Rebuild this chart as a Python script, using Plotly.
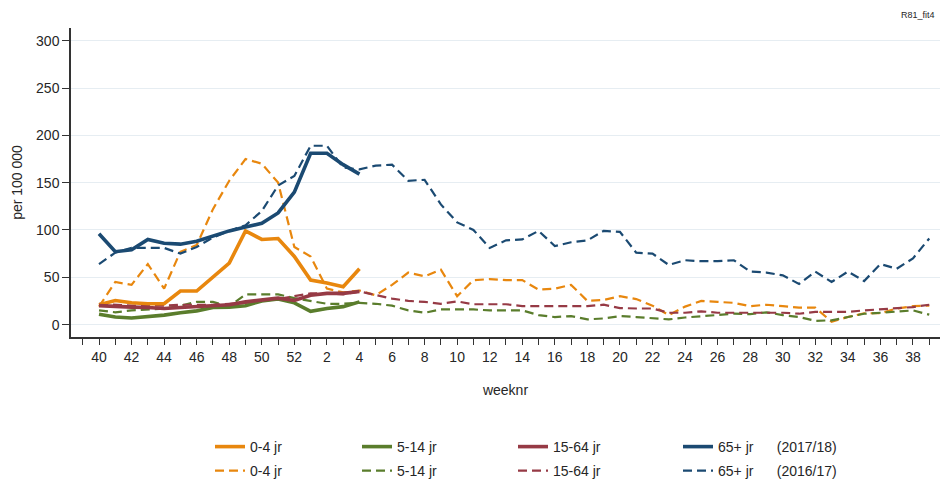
import plotly.graph_objects as go

# ---- data ----
weeks = list(range(40, 53)) + list(range(1, 40))   # season weeks 40..52, 1..39
age_groups = ["0-4 jr", "5-14 jr", "15-64 jr", "65+ jr"]
season_new = "(2017/18)"
season_old = "(2016/17)"

# 2017/18 (solid), weeks 40 .. 4
s1718_0_4 = [21, 25.5, 23, 22, 22, 35.5, 35.5, 50, 65, 99, 90, 91, 72, 47, 44, 40, 59]
s1718_5_14 = [11, 8, 7, 8.5, 10, 12.5, 14.5, 18, 18.5, 20, 25, 27, 23, 14, 17, 19, 24]
s1718_15_64 = [20, 19, 18.5, 18, 17, 18, 19, 20, 21, 24, 26, 28, 25.5, 31, 33, 33, 35]
s1718_65 = [96, 77, 79, 90, 86, 85, 88, 94, 99, 103, 107, 118, 140, 181, 181, 169, 159]

# 2016/17 (dashed), weeks 40 .. 39
s1617_0_4 = [19, 45, 42, 64, 38, 77, 84, 122, 152, 175, 170, 150, 82, 72, 38, 34, 36, 31, 42, 55,
             51, 58, 30, 47, 48, 47, 47, 37, 38, 42, 25, 26, 30, 27, 20, 10, 19, 25, 24, 23,
             19.5, 21, 19.5, 18, 18, 3, 8, 12, 12, 17, 19.5, 20]
s1617_5_14 = [15, 13, 15, 16, 17, 20, 24, 24, 19, 32, 32, 32, 28, 25, 22, 22, 23, 22, 20, 15,
              12.5, 16, 16, 16, 15, 15, 15, 10, 8, 9, 5.5, 6.5, 9, 8, 6.5, 5.5, 7.5, 9, 10.5, 11.5,
              11, 13, 10, 8, 4, 4.5, 8, 11.5, 12.5, 14, 15, 10.5]
s1617_15_64 = [22, 21, 20, 20, 20, 21, 21, 21, 22, 23, 25, 27, 30, 33, 33, 32, 35, 31, 27.5, 25,
               24, 22, 24.5, 21.5, 21.5, 21.5, 19.5, 19.5, 19.5, 19.5, 19.5, 21, 17.5, 17, 17, 12.5, 12.5, 14, 12.5, 12.5,
               12.5, 13, 12.5, 11.5, 13.5, 13.5, 13.5, 15, 16, 17, 18.5, 21]
s1617_65 = [64, 76, 81, 81, 81, 75, 82, 92, 99, 105, 120, 147, 157, 189, 189, 166, 164, 168, 169, 152,
            153, 127, 108, 100, 81, 89, 90, 99, 83, 87, 89, 99, 98, 76, 75, 63, 68, 67, 67, 68,
            56, 55, 52, 43, 56, 45, 56, 46, 64, 59, 70, 91]

y_ticks = [0, 50, 100, 150, 200, 250, 300]

colors = ["#E8870E", "#5A7D2C", "#963A45", "#1B4A72"]
FONT = "Liberation Sans, Arial, sans-serif"
TXT = "#262626"
W, H = 946, 483

x_pos = list(range(len(weeks)))
new_series = [s1718_0_4, s1718_5_14, s1718_15_64, s1718_65]
old_series = [s1617_0_4, s1617_5_14, s1617_15_64, s1617_65]

# legend layout: one small legend per entry (columns x text start, rows y)
legend_text_x = [250, 397, 553, 718]
legend_row_y = [447, 471]

legend_layouts = {}


def legend_id(n):
    return "legend" if n == 1 else f"legend{n}"


def make_legend(n, col, row):
    legend_layouts[legend_id(n)] = dict(
        orientation="h", xref="container", yref="container",
        x=(legend_text_x[col] - 40) / W, y=1 - legend_row_y[row] / H,
        xanchor="left", yanchor="middle",
        font=dict(size=14, family=FONT, color=TXT), bgcolor="rgba(0,0,0,0)")


fig = go.Figure()
nb = "\u00a0" * 6
n = 1
for k, (name, ys) in enumerate(zip(age_groups, old_series)):
    label = name + (nb + season_old if k == 3 else "")
    make_legend(n + 4, k, 1)
    fig.add_trace(go.Scatter(x=x_pos[:len(ys)], y=ys, mode="lines", name=label,
                             line=dict(color=colors[k], width=2.2, dash="9px,5px"),
                             legend=legend_id(n + 4)))
    n += 1
n = 1
for k, (name, ys) in enumerate(zip(age_groups, new_series)):
    label = name + (nb + season_new if k == 3 else "")
    make_legend(n, k, 0)
    fig.add_trace(go.Scatter(x=x_pos[:len(ys)], y=ys, mode="lines", name=label,
                             line=dict(color=colors[k], width=3.6),
                             legend=legend_id(n)))
    n += 1

tickvals = list(range(-1, len(weeks)))
ticktext = [str(weeks[i]) if i >= 0 and weeks[i] % 2 == 0 else "" for i in tickvals]

fig.update_layout(
    width=W, height=H,
    margin=dict(l=71, r=6, t=28, b=146),
    paper_bgcolor="white", plot_bgcolor="white",
    font=dict(family=FONT, size=14, color=TXT),
    showlegend=True,
    **legend_layouts,
    xaxis=dict(range=[-1.72, 51.66], tickmode="array", tickvals=tickvals, ticktext=ticktext,
               showgrid=False, zeroline=False, showline=True, linecolor="#333", linewidth=1.5,
               ticks="outside", ticklen=6, tickwidth=1.2, tickcolor="#333", automargin=False,
               tickfont=dict(size=14, family=FONT, color=TXT),
               title=dict(text="weeknr", standoff=22, font=dict(size=14, family=FONT, color=TXT))),
    yaxis=dict(range=[-13.1, 313.4], tickmode="array", tickvals=y_ticks,
               showgrid=True, gridcolor="#e6edf2", gridwidth=1, zeroline=False,
               showline=True, linecolor="#333", linewidth=1.5, automargin=False,
               ticks="outside", ticklen=7, tickwidth=1.2, tickcolor="#333",
               tickfont=dict(size=14, family=FONT, color=TXT),
               title=dict(text="per 100 000", standoff=10, font=dict(size=14, family=FONT, color=TXT))),
    annotations=[dict(text="R81_fit4", xref="paper", yref="paper", x=0.9965, y=1.042,
                      xanchor="right", yanchor="middle", showarrow=False,
                      font=dict(size=9, family=FONT, color=TXT))],
)

fig.write_html("out.html", config={"displayModeBar": False},
               post_script="document.body.style.margin='0px';")
